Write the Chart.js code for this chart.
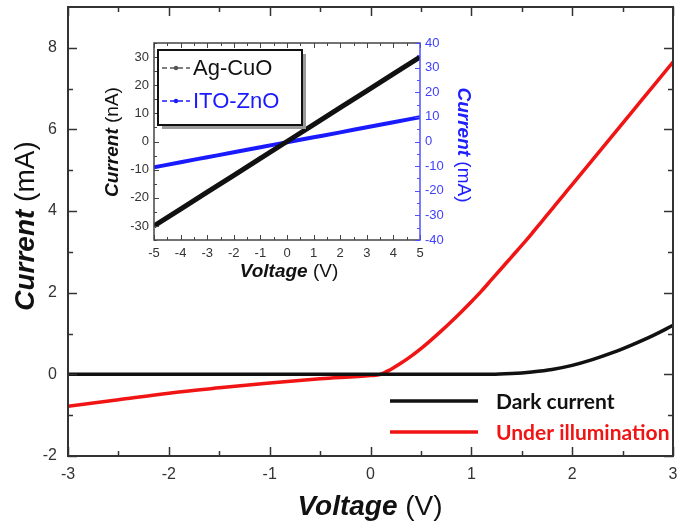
<!DOCTYPE html>
<html>
<head>
<meta charset="utf-8">
<script src="https://cdn.jsdelivr.net/npm/chart.js@4.4.1/dist/chart.umd.min.js"></script>
<style>
  html, body { margin:0; padding:0; background:#fff; }
  #wrap { position:relative; width:685px; height:529px; }
  #main { position:absolute; left:0; top:0; }
  #inset { position:absolute; left:90px; top:30px; }
</style>
</head>
<body>
<div id="wrap">
  <canvas id="main" width="685" height="529"></canvas>
  <canvas id="inset" width="420" height="260"></canvas>
</div>
<script>
// ---------- main chart data ----------
const darkLabel = 'Dark current';
const lightLabel = 'Under illumination';
const darkVoltage = [-3, -2, -1, 0, 1, 1.2, 1.4, 1.6, 1.8, 2.0, 2.2, 2.4, 2.6, 2.8, 3.0];
const darkCurrent = [0, 0, 0, 0, 0, 0, 0.02, 0.06, 0.12, 0.22, 0.36, 0.53, 0.73, 0.95, 1.2];
const lightVoltage = [-3, -2.5, -2, -1.5, -1, -0.5, 0, 0.1, 0.2, 0.3, 0.4, 0.5, 0.6, 0.7, 0.8, 0.9, 1.0, 1.1, 1.2, 1.3, 1.4, 1.5, 1.6, 1.7, 1.8, 1.9, 2.0, 2.2, 2.4, 2.6, 2.8, 3.0];
const lightCurrent = [-0.78, -0.62, -0.46, -0.33, -0.21, -0.11, -0.03, 0.0, 0.12, 0.27, 0.44, 0.63, 0.84, 1.06, 1.29, 1.53, 1.78, 2.04, 2.32, 2.6, 2.88, 3.16, 3.45, 3.75, 4.05, 4.35, 4.65, 5.25, 5.85, 6.45, 7.05, 7.65];
const mainXTicks = [-3, -2, -1, 0, 1, 2, 3];
const mainXMinor = [-2.5, -1.5, -0.5, 0.5, 1.5, 2.5];
const mainYTicks = [-2, 0, 2, 4, 6, 8];
const mainYMinor = [-1, 1, 3, 5, 7];

// ---------- inset data ----------
const agLabel = 'Ag-CuO';
const itoLabel = 'ITO-ZnO';
const insetVoltage = [-5, -4, -3, -2, -1, 0, 1, 2, 3, 4, 5];
const agCuO_nA = [-30, -24, -18, -12, -6, 0, 6, 12, 18, 24, 30];
const itoZnO_mA = [-10.5, -8.4, -6.4, -4.4, -2.3, -0.3, 1.7, 3.7, 5.8, 7.8, 9.9];
const insetXTicks = [-5, -4, -3, -2, -1, 0, 1, 2, 3, 4, 5];
const insetXMinor = [-4.5, -3.5, -2.5, -1.5, -0.5, 0.5, 1.5, 2.5, 3.5, 4.5];
const insetYTicks = [-30, -20, -10, 0, 10, 20, 30];
const insetYMinor = [-35, -25, -15, -5, 5, 15, 25, 35];
const insetY2Ticks = [-40, -30, -20, -10, 0, 10, 20, 30, 40];
const insetY2Minor = [-35, -25, -15, -5, 5, 15, 25, 35];

const SANS = '"Liberation Sans", Arial, sans-serif';
const pts = (xs, ys) => xs.map((x, i) => ({ x: x, y: ys[i] }));
const setTicks = arr => s => { s.ticks = arr.map(v => ({ value: v })); };
const fitY = w => s => { s.width = w; s.paddingTop = 0; s.paddingBottom = 0; };
const fitX = h => s => { s.height = h; s.paddingLeft = 0; s.paddingRight = 0; };

// frame + inward ticks
const frameTicks = {
  id: 'frameTicks',
  afterDraw(chart, args, o) {
    const { ctx, chartArea: a, scales } = chart;
    ctx.save();
    ctx.lineCap = 'butt';
    const line = (x1, y1, x2, y2) => { ctx.beginPath(); ctx.moveTo(x1, y1); ctx.lineTo(x2, y2); ctx.stroke(); };
    ctx.strokeStyle = o.color; ctx.lineWidth = o.tickWidth;
    const xs = scales.x;
    [[o.xMajor, o.major], [o.xMinor, o.minor]].forEach(([vals, len]) => (vals || []).forEach(v => {
      const x = Math.round(xs.getPixelForValue(v)) + 0.5;
      line(x, a.bottom, x, a.bottom - len);
      line(x, a.top, x, a.top + len);
    }));
    const ys = scales.y;
    [[o.yMajor, o.major], [o.yMinor, o.minor]].forEach(([vals, len]) => (vals || []).forEach(v => {
      const y = Math.round(ys.getPixelForValue(v)) + 0.5;
      line(a.left, y, a.left + len, y);
      if (!o.y2) line(a.right, y, a.right - len, y);
    }));
    ctx.lineWidth = o.frameWidth;
    line(a.left, a.top, a.right, a.top);
    line(a.left, a.bottom, a.right, a.bottom);
    line(a.left, a.top - o.frameWidth / 2, a.left, a.bottom + o.frameWidth / 2);
    if (o.y2) {
      const s2 = scales.y2;
      ctx.strokeStyle = o.y2Color; ctx.lineWidth = o.tickWidth;
      [[o.y2Major, o.major], [o.y2Minor, o.minor]].forEach(([vals, len]) => (vals || []).forEach(v => {
        const y = Math.round(s2.getPixelForValue(v)) + 0.5;
        line(a.right, y, a.right - len, y);
      }));
      ctx.lineWidth = o.frameWidth;
    }
    ctx.strokeStyle = o.y2 ? o.y2Color : o.color;
    line(a.right, a.top - o.frameWidth / 2, a.right, a.bottom + o.frameWidth / 2);
    ctx.restore();
  }
};

// axis titles with mixed fonts
const richTitles = {
  id: 'richTitles',
  afterDraw(chart, args, o) {
    const ctx = chart.ctx;
    (o.items || []).forEach(it => {
      ctx.save();
      ctx.translate(it.x, it.y);
      if (it.rotate) ctx.rotate(it.rotate);
      ctx.textBaseline = 'middle';
      ctx.textAlign = 'left';
      ctx.fillStyle = it.color;
      let total = 0;
      const widths = it.parts.map(p => { ctx.font = p.font; const w = ctx.measureText(p.text).width; total += w; return w; });
      let x = -total / 2;
      it.parts.forEach((p, i) => { ctx.font = p.font; ctx.fillText(p.text, x, 0); x += widths[i]; });
      ctx.restore();
    });
  }
};

// main legend: line + colored label
const lineLegend = {
  id: 'lineLegend',
  afterDraw(chart, args, o) {
    if (!o.enabled) return;
    const ctx = chart.ctx;
    chart.data.datasets.forEach((ds, i) => {
      const y = o.y + i * o.gap;
      ctx.save();
      ctx.strokeStyle = ds.borderColor; ctx.lineWidth = o.lineWidth;
      ctx.beginPath(); ctx.moveTo(o.x0, y); ctx.lineTo(o.x1, y); ctx.stroke();
      ctx.fillStyle = o.textColors[i]; ctx.font = o.font;
      ctx.textBaseline = 'middle'; ctx.textAlign = 'left';
      ctx.fillText(ds.label, o.tx, y + 1);
      ctx.restore();
    });
  }
};

// inset legend: boxed, with shadow, dash-dot-dash symbol
const boxLegend = {
  id: 'boxLegend',
  afterDraw(chart, args, o) {
    if (!o.enabled) return;
    const ctx = chart.ctx;
    ctx.save();
    ctx.fillStyle = '#9a9a9a';
    ctx.fillRect(o.x + 4, o.y + 4, o.w, o.h);
    ctx.fillStyle = '#fff';
    ctx.fillRect(o.x, o.y, o.w, o.h);
    ctx.strokeStyle = '#111'; ctx.lineWidth = 2;
    ctx.strokeRect(o.x, o.y, o.w, o.h);
    chart.data.datasets.forEach((ds, i) => {
      const y = o.y + o.first + i * o.gap;
      ctx.strokeStyle = o.symColors[i]; ctx.lineWidth = 1.5;
      ctx.setLineDash([5, 3]);
      ctx.beginPath(); ctx.moveTo(o.x + 4, y); ctx.lineTo(o.x + 32, y); ctx.stroke();
      ctx.setLineDash([]);
      ctx.fillStyle = o.symColors[i];
      ctx.beginPath(); ctx.arc(o.x + 18, y, 2.2, 0, Math.PI * 2); ctx.fill();
      ctx.fillStyle = o.textColors[i];
      ctx.font = o.font; ctx.textBaseline = 'middle'; ctx.textAlign = 'left';
      ctx.fillText(ds.label, o.x + 35, y + 1);
    });
    ctx.restore();
  }
};

Chart.register(frameTicks, richTitles, lineLegend, boxLegend);

function build() {
  // ---------- main chart ----------
  new Chart(document.getElementById('main'), {
    type: 'line',
    data: {
      datasets: [
        { label: darkLabel, data: pts(darkVoltage, darkCurrent), borderColor: '#111111', borderWidth: 3.5, pointRadius: 0, cubicInterpolationMode: 'monotone' },
        { label: lightLabel, data: pts(lightVoltage, lightCurrent), borderColor: '#f01414', borderWidth: 3.5, pointRadius: 0, cubicInterpolationMode: 'monotone' }
      ]
    },
    options: {
      responsive: false, animation: false, devicePixelRatio: 1,
      layout: { padding: { top: 7, right: 12, left: 0, bottom: 0 } },
      plugins: {
        legend: { display: false }, tooltip: { enabled: false },
        frameTicks: { color: '#333', frameWidth: 2, tickWidth: 1.5, major: 9, minor: 5,
          xMajor: mainXTicks, xMinor: mainXMinor, yMajor: mainYTicks, yMinor: mainYMinor },
        richTitles: { items: [
          { x: 370, y: 507, color: '#111', parts: [ { text: 'Voltage', font: 'italic bold 28px ' + SANS }, { text: ' (V)', font: '28px ' + SANS } ] },
          { x: 26, y: 226, rotate: -Math.PI / 2, color: '#111', parts: [ { text: 'Current', font: 'italic bold 28px ' + SANS }, { text: ' (mA)', font: '28px ' + SANS } ] }
        ] },
        lineLegend: { enabled: true, x0: 390, x1: 478, tx: 496, y: 401, gap: 31, lineWidth: 3.5,
          font: 'bold 21px Lato, "Open Sans", sans-serif', textColors: ['#111', '#f01414'] },
        boxLegend: { enabled: false }
      },
      scales: {
        x: { type: 'linear', min: -3, max: 3,
          grid: { display: false, drawTicks: false }, border: { display: false },
          afterBuildTicks: setTicks(mainXTicks), afterFit: fitX(73),
          ticks: { font: { family: SANS, size: 16 }, color: '#333', padding: 9, maxRotation: 0, autoSkip: false } },
        y: { type: 'linear', min: -2, max: 9,
          grid: { display: false, drawTicks: false }, border: { display: false },
          afterBuildTicks: setTicks(mainYTicks), afterFit: fitY(68),
          ticks: { font: { family: SANS, size: 16 }, color: '#333', padding: 11, autoSkip: false } }
      }
    }
  });

  // ---------- inset chart ----------
  new Chart(document.getElementById('inset'), {
    type: 'line',
    data: {
      datasets: [
        { label: agLabel, data: pts(insetVoltage, agCuO_nA), yAxisID: 'y', borderColor: '#111111', borderWidth: 5, pointRadius: 0 },
        { label: itoLabel, data: pts(insetVoltage, itoZnO_mA), yAxisID: 'y2', borderColor: '#1a1aff', borderWidth: 4, pointRadius: 0, cubicInterpolationMode: 'monotone' }
      ]
    },
    options: {
      responsive: false, animation: false, devicePixelRatio: 1,
      layout: { padding: { top: 13, right: 0, left: 0, bottom: 0 } },
      plugins: {
        legend: { display: false }, tooltip: { enabled: false },
        frameTicks: { color: '#444', frameWidth: 1.5, tickWidth: 1, major: 5, minor: 3,
          xMajor: insetXTicks, xMinor: insetXMinor, yMajor: insetYTicks, yMinor: insetYMinor,
          y2: true, y2Color: '#5050ff', y2Major: insetY2Ticks, y2Minor: insetY2Minor },
        richTitles: { items: [
          { x: 199, y: 242, color: '#111', parts: [ { text: 'Voltage', font: 'italic bold 19px ' + SANS }, { text: ' (V)', font: '19px ' + SANS } ] },
          { x: 23, y: 112, rotate: -Math.PI / 2, color: '#111', parts: [ { text: 'Current', font: 'italic bold 19px ' + SANS }, { text: ' (nA)', font: '19px ' + SANS } ] },
          { x: 373, y: 115, rotate: Math.PI / 2, color: '#2020ff', parts: [ { text: 'Current', font: 'italic bold 19px ' + SANS }, { text: ' (mA)', font: '19px ' + SANS } ] }
        ] },
        lineLegend: { enabled: false },
        boxLegend: { enabled: true, x: 68, y: 20, w: 144, h: 75, first: 18, gap: 33,
          font: '22px ' + SANS, textColors: ['#111', '#1a1aff'], symColors: ['#555', '#1a1aff'] }
      },
      scales: {
        x: { type: 'linear', min: -5, max: 5,
          grid: { display: false, drawTicks: false }, border: { display: false },
          afterBuildTicks: setTicks(insetXTicks), afterFit: fitX(50),
          ticks: { font: { family: SANS, size: 13 }, color: '#333', padding: 6, maxRotation: 0, autoSkip: false } },
        y: { type: 'linear', position: 'left', min: -35, max: 35,
          grid: { display: false, drawTicks: false }, border: { display: false },
          afterBuildTicks: setTicks(insetYTicks), afterFit: fitY(64),
          ticks: { font: { family: SANS, size: 13 }, color: '#333', padding: 5, autoSkip: false } },
        y2: { type: 'linear', position: 'right', min: -40, max: 40,
          grid: { display: false, drawTicks: false }, border: { display: false },
          afterBuildTicks: setTicks(insetY2Ticks), afterFit: fitY(90),
          ticks: { font: { family: SANS, size: 13 }, color: '#4040ff', padding: 5, autoSkip: false } }
      }
    }
  });
}

const fontLoads = [
  '16px "Liberation Sans"', 'bold 16px "Liberation Sans"', 'italic bold 16px "Liberation Sans"', 'bold 21px Lato'
].map(f => document.fonts && document.fonts.load ? document.fonts.load(f) : Promise.resolve());
Promise.all(fontLoads).then(build, build);
</script>
</body>
</html>
